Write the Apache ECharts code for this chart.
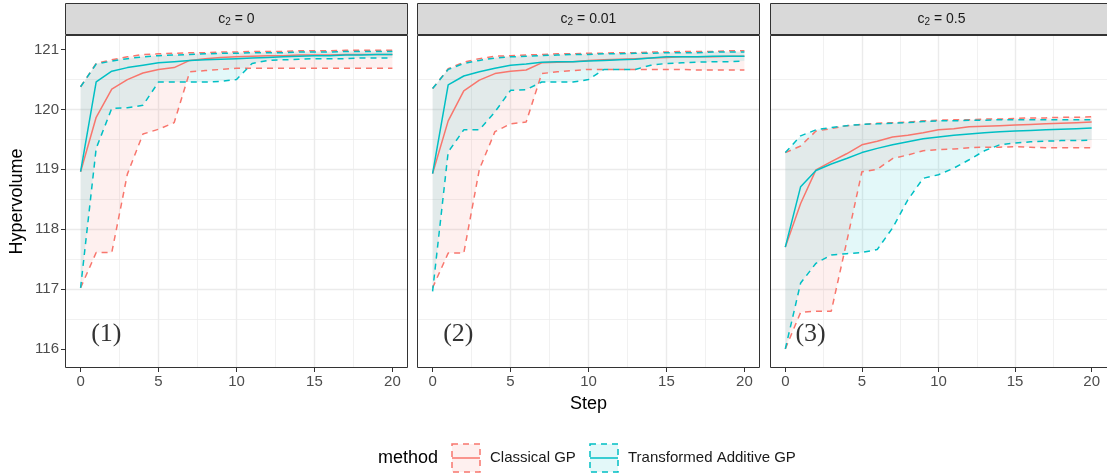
<!DOCTYPE html>
<html>
<head>
<meta charset="utf-8">
<script src="https://cdn.jsdelivr.net/npm/echarts@6/dist/echarts.min.js"></script>
<style>
html, body { margin: 0; padding: 0; background: #fff; }
#main { width: 1107px; height: 474px; }
</style>
</head>
<body>
<div id="main"></div>
<script>
// steps on the x axis
var steps = [0, 1, 2, 3, 4, 5, 6, 7, 8, 9, 10, 11, 12, 13, 14, 15, 16, 17, 18, 19, 20];
var xTicks = [0, 5, 10, 15, 20];
var yTicks = [116, 117, 118, 119, 120, 121];
var panelTitles = ['0', '0.01', '0.5'];
var panelTags = ['(1)', '(2)', '(3)'];
var methods = ['Classical GP', 'Transformed Additive GP'];

// c2 = 0
var c0ClassicalMid = [118.96, 119.87, 120.34, 120.50, 120.61, 120.67, 120.70, 120.82, 120.85, 120.87, 120.88, 120.89, 120.90, 120.90, 120.91, 120.91, 120.91, 120.92, 120.92, 120.92, 120.92];
var c0ClassicalLow = [117.02, 117.61, 117.61, 118.92, 119.59, 119.67, 119.78, 120.63, 120.65, 120.67, 120.69, 120.69, 120.69, 120.69, 120.69, 120.69, 120.69, 120.69, 120.69, 120.69, 120.69];
var c0ClassicalHigh = [120.38, 120.77, 120.83, 120.88, 120.92, 120.93, 120.94, 120.95, 120.95, 120.96, 120.96, 120.97, 120.97, 120.97, 120.98, 120.98, 120.98, 120.99, 120.99, 120.99, 120.99];
var c0AdditiveMid = [118.96, 120.46, 120.64, 120.70, 120.74, 120.78, 120.80, 120.82, 120.83, 120.84, 120.85, 120.86, 120.87, 120.88, 120.89, 120.90, 120.90, 120.91, 120.91, 120.92, 120.92];
var c0AdditiveLow = [117.02, 119.35, 120.02, 120.03, 120.07, 120.46, 120.46, 120.46, 120.46, 120.47, 120.50, 120.77, 120.82, 120.83, 120.84, 120.85, 120.85, 120.85, 120.86, 120.86, 120.86];
var c0AdditiveHigh = [120.38, 120.76, 120.81, 120.85, 120.88, 120.90, 120.91, 120.92, 120.93, 120.94, 120.94, 120.95, 120.95, 120.95, 120.96, 120.96, 120.96, 120.97, 120.97, 120.97, 120.97];

// c2 = 0.01
var c1ClassicalMid = [118.93, 119.81, 120.31, 120.49, 120.60, 120.64, 120.66, 120.78, 120.79, 120.80, 120.82, 120.83, 120.84, 120.85, 120.86, 120.87, 120.88, 120.88, 120.88, 120.89, 120.89];
var c1ClassicalLow = [117.02, 117.60, 117.60, 119.00, 119.63, 119.76, 119.79, 120.60, 120.63, 120.65, 120.67, 120.67, 120.67, 120.67, 120.67, 120.67, 120.67, 120.66, 120.66, 120.66, 120.66];
var c1ClassicalHigh = [120.35, 120.68, 120.79, 120.85, 120.89, 120.90, 120.91, 120.92, 120.93, 120.93, 120.94, 120.94, 120.95, 120.95, 120.96, 120.96, 120.97, 120.97, 120.97, 120.98, 120.98];
var c1AdditiveMid = [118.93, 120.41, 120.56, 120.63, 120.69, 120.74, 120.76, 120.79, 120.80, 120.80, 120.81, 120.82, 120.83, 120.84, 120.86, 120.88, 120.88, 120.88, 120.89, 120.89, 120.89];
var c1AdditiveLow = [116.96, 119.29, 119.66, 119.66, 119.96, 120.32, 120.33, 120.46, 120.46, 120.46, 120.50, 120.67, 120.67, 120.67, 120.74, 120.77, 120.78, 120.79, 120.80, 120.80, 120.81];
var c1AdditiveHigh = [120.35, 120.67, 120.77, 120.82, 120.86, 120.88, 120.89, 120.90, 120.91, 120.92, 120.92, 120.93, 120.93, 120.94, 120.94, 120.95, 120.95, 120.95, 120.96, 120.96, 120.96];

// c2 = 0.5
var c2ClassicalMid = [117.70, 118.43, 118.99, 119.13, 119.26, 119.41, 119.47, 119.54, 119.57, 119.61, 119.66, 119.68, 119.71, 119.72, 119.73, 119.74, 119.75, 119.76, 119.77, 119.78, 119.79];
var c2ClassicalLow = [116.00, 116.61, 116.63, 116.63, 117.78, 118.96, 119.00, 119.18, 119.24, 119.31, 119.33, 119.34, 119.36, 119.37, 119.37, 119.38, 119.37, 119.36, 119.36, 119.36, 119.36];
var c2ClassicalHigh = [119.28, 119.39, 119.64, 119.68, 119.73, 119.75, 119.77, 119.78, 119.79, 119.81, 119.82, 119.83, 119.83, 119.84, 119.84, 119.85, 119.86, 119.86, 119.87, 119.87, 119.88];
var c2AdditiveMid = [117.70, 118.71, 118.98, 119.09, 119.18, 119.28, 119.35, 119.41, 119.46, 119.51, 119.54, 119.57, 119.59, 119.61, 119.63, 119.64, 119.65, 119.66, 119.67, 119.68, 119.69];
var c2AdditiveLow = [116.00, 117.10, 117.43, 117.57, 117.59, 117.61, 117.66, 118.02, 118.49, 118.85, 118.91, 119.02, 119.16, 119.31, 119.41, 119.44, 119.46, 119.47, 119.48, 119.48, 119.49];
var c2AdditiveHigh = [119.28, 119.56, 119.66, 119.70, 119.73, 119.75, 119.76, 119.77, 119.78, 119.80, 119.81, 119.81, 119.82, 119.82, 119.83, 119.83, 119.83, 119.83, 119.83, 119.83, 119.83];

var panels = [
    [[c0ClassicalLow, c0ClassicalMid, c0ClassicalHigh], [c0AdditiveLow, c0AdditiveMid, c0AdditiveHigh]],
    [[c1ClassicalLow, c1ClassicalMid, c1ClassicalHigh], [c1AdditiveLow, c1AdditiveMid, c1AdditiveHigh]],
    [[c2ClassicalLow, c2ClassicalMid, c2ClassicalHigh], [c2AdditiveLow, c2AdditiveMid, c2AdditiveHigh]]
];

var colors = ['#F8766D', '#00BFC4'];
var fills = ['rgba(248,118,109,0.11)', 'rgba(0,191,196,0.11)'];
var FONT = 'Liberation Sans';

var panelLeft = [65, 417, 770];
var panelW = 343, panelTop = 35, panelH = 333;

var myChart = echarts.init(document.getElementById('main'), null, {renderer: 'canvas'});

function pairs(arr) {
    return steps.map(function (s, i) { return [s, arr[i]]; });
}

function ribbon(p, m) {
    var lo = panels[p][m][0], hi = panels[p][m][2];
    return {
        type: 'custom',
        name: methods[m],
        xAxisIndex: p,
        yAxisIndex: p,
        silent: true,
        z: 1,
        data: steps.map(function (s, i) { return [s, lo[i], hi[i]]; }),
        encode: {x: 0, y: [1, 2]},
        renderItem: function (params, api) {
            if (params.dataIndex !== 0) return;
            var pts = [];
            for (var i = 0; i < steps.length; i++) pts.push(api.coord([steps[i], hi[i]]));
            for (var j = steps.length - 1; j >= 0; j--) pts.push(api.coord([steps[j], lo[j]]));
            return {type: 'polygon', shape: {points: pts}, style: {fill: fills[m], stroke: null}};
        }
    };
}

function line(p, m, k, dashed) {
    return {
        type: 'line',
        name: methods[m],
        xAxisIndex: p,
        yAxisIndex: p,
        silent: true,
        z: 2,
        symbol: 'none',
        data: pairs(panels[p][m][k]),
        lineStyle: {color: colors[m], width: 1.5, type: dashed ? [6, 5] : 'solid'}
    };
}

var series = [];
for (var p = 0; p < 3; p++) {
    for (var m = 0; m < 2; m++) {
        series.push(ribbon(p, m));
        series.push(line(p, m, 0, true));
        series.push(line(p, m, 2, true));
    }
    series.push(line(p, 0, 1, false));
    series.push(line(p, 1, 1, false));
    series.push({
        type: 'scatter',
        xAxisIndex: p,
        yAxisIndex: p,
        silent: true,
        z: 3,
        symbolSize: 1,
        itemStyle: {color: 'rgba(0,0,0,0)'},
        data: [[1.65, 116.24]],
        label: {
            show: true, position: 'inside', formatter: panelTags[p],
            fontFamily: 'Liberation Serif', fontSize: 26, color: '#000'
        }
    });
}

var grids = panelLeft.map(function (l) {
    return {left: l, top: panelTop, width: panelW, height: panelH, show: true, backgroundColor: '#fff', borderWidth: 0};
});

var xAxes = panelLeft.map(function (l, i) {
    return {
        type: 'value', gridIndex: i, position: 'bottom', min: -1, max: 21, minInterval: 5, maxInterval: 5,
        axisLine: {show: false, onZero: false},
        axisTick: {show: true, length: 4, customValues: xTicks, lineStyle: {color: '#333', width: 1}},
        axisLabel: {
            customValues: xTicks, color: '#4d4d4d', fontSize: 15, fontFamily: FONT, margin: 6,
            formatter: function (v) { return v % 5 === 0 ? String(v) : ''; }
        },
        splitLine: {show: true, showMinLine: false, showMaxLine: false, lineStyle: {color: '#ebebeb', width: 1.4}},
        minorTick: {show: false, splitNumber: 2},
        minorSplitLine: {show: true, lineStyle: {color: '#ebebeb', width: 0.7}},
        name: i === 1 ? 'Step' : '',
        nameLocation: 'middle',
        nameGap: 27,
        nameTextStyle: {color: '#000', fontSize: 18, fontFamily: FONT}
    };
});

var yAxes = panelLeft.map(function (l, i) {
    return {
        type: 'value', gridIndex: i, position: 'left', min: 115.68, max: 121.245, minInterval: 1, maxInterval: 1,
        axisLine: {show: false, onZero: false},
        axisTick: {show: i === 0, length: 4, customValues: yTicks, lineStyle: {color: '#333', width: 1}},
        axisLabel: {
            show: i === 0, customValues: yTicks, color: '#4d4d4d', fontSize: 15, fontFamily: FONT, margin: 6,
            formatter: function (v) { return Math.abs(v - Math.round(v)) < 1e-6 ? String(v) : ''; }
        },
        splitLine: {show: true, showMinLine: false, showMaxLine: false, lineStyle: {color: '#ebebeb', width: 1.4}},
        minorTick: {show: false, splitNumber: 2},
        minorSplitLine: {show: true, lineStyle: {color: '#ebebeb', width: 0.7}},
        name: i === 0 ? 'Hypervolume' : '',
        nameLocation: 'middle',
        nameGap: 39,
        nameTextStyle: {color: '#000', fontSize: 18, fontFamily: FONT}
    };
});

// strips, panel borders and the legend
var graphics = [];
panelLeft.forEach(function (l, i) {
    graphics.push({
        type: 'rect', z: 100, silent: true,
        shape: {x: l + 0.5, y: 3.5, width: panelW - 1, height: panelTop - 4},
        style: {fill: '#d9d9d9', stroke: '#333', lineWidth: 1}
    });
    graphics.push({
        type: 'text', z: 101, silent: true, x: l + panelW / 2, y: 19,
        style: {
            text: '{c|c}{s|2}{c| = ' + panelTitles[i] + '}',
            align: 'center', verticalAlign: 'middle',
            rich: {
                c: {fontSize: 14, fontFamily: FONT, fill: '#1a1a1a', color: '#1a1a1a'},
                s: {fontSize: 10, fontFamily: FONT, fill: '#1a1a1a', color: '#1a1a1a', padding: [7, 0, 0, 0]}
            }
        }
    });
    graphics.push({
        type: 'rect', z: 100, silent: true,
        shape: {x: l + 0.5, y: panelTop + 0.5, width: panelW - 1, height: panelH - 1},
        style: {fill: null, stroke: '#333', lineWidth: 1}
    });
});

var legendY = 458;
graphics.push({
    type: 'text', z: 100, silent: true, x: 378, y: legendY,
    style: {text: 'method', fontSize: 18, fontFamily: FONT, fill: '#000', verticalAlign: 'middle'}
});
var keyX = [452, 590], labelX = [490, 628];
methods.forEach(function (name, m) {
    graphics.push({
        type: 'rect', z: 100, silent: true,
        shape: {x: keyX[m], y: legendY - 14, width: 28, height: 28},
        style: {fill: fills[m], stroke: colors[m], lineWidth: 1.5, lineDash: [6, 5]}
    });
    graphics.push({
        type: 'line', z: 100, silent: true,
        shape: {x1: keyX[m], y1: legendY, x2: keyX[m] + 28, y2: legendY},
        style: {stroke: colors[m], lineWidth: 1.5}
    });
    graphics.push({
        type: 'text', z: 100, silent: true, x: labelX[m], y: legendY,
        style: {text: name, fontSize: 15, fontFamily: FONT, fill: '#1a1a1a', verticalAlign: 'middle'}
    });
});

var option = {
    animation: false,
    backgroundColor: '#fff',
    textStyle: {fontFamily: FONT},
    grid: grids,
    xAxis: xAxes,
    yAxis: yAxes,
    series: series,
    graphic: graphics
};

myChart.setOption(option);
</script>
</body>
</html>
